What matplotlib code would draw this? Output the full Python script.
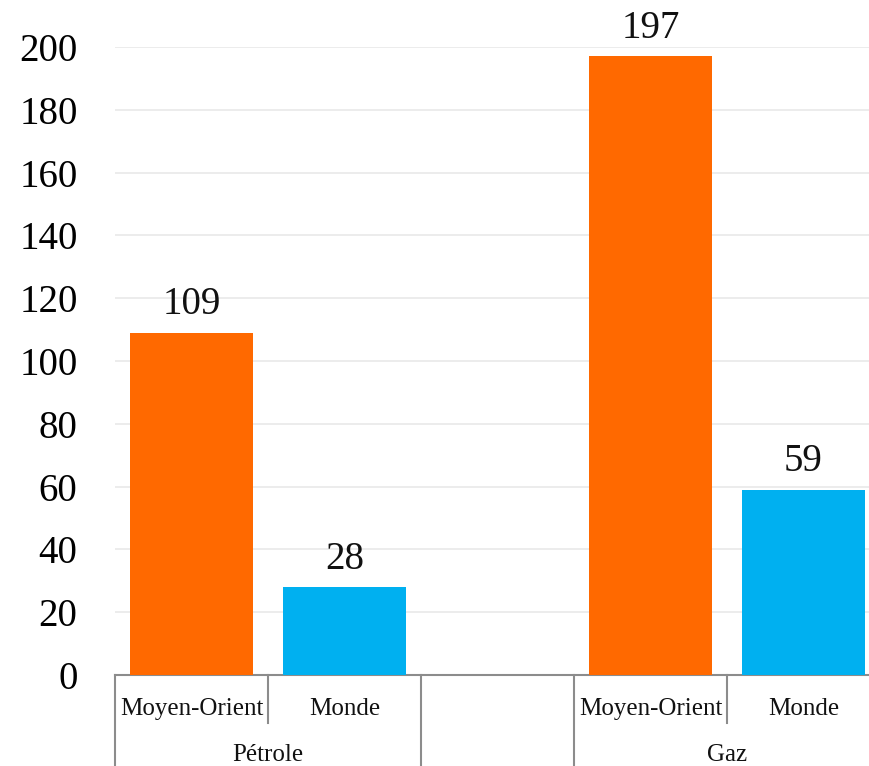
import matplotlib
matplotlib.use('Agg')
import matplotlib.pyplot as plt
import matplotlib.transforms as mtransforms

plt.rcParams['font.family'] = ['Liberation Serif', 'DejaVu Serif']

# slots on the category axis (the middle one is left empty)
slot_labels = ['Moyen-Orient', 'Monde', '', 'Moyen-Orient', 'Monde']
groups = ['Pétrole', '', 'Gaz']
group_slots = [(0, 1), (2, 2), (3, 4)]

bar_slots = [0, 1, 3, 4]
values = [109, 28, 197, 59]
colors = ['#FF6900', '#00B0F0', '#FF6900', '#00B0F0']
yticks = list(range(0, 201, 20))

W, H = 869, 766
fig = plt.figure(figsize=(W / 100, H / 100), dpi=100)
ax = fig.add_axes([115 / W, (H - 675) / H, 765 / W, (675 - 47) / H])

ax.bar(bar_slots, values, width=0.8, color=colors, zorder=3)
for x, v in zip(bar_slots, values):
    ax.text(x, v + 3, str(v), ha='center', va='bottom', fontsize=28, color='#111111')

ax.set_xlim(-0.5, len(slot_labels) - 0.5)
ax.set_ylim(0, 200)
ax.set_yticks(yticks)
ax.set_yticklabels([str(t) for t in yticks], fontsize=28)
ax.tick_params(axis='y', length=0, pad=27)
ax.set_xticks([])
ax.yaxis.grid(True, color='#EBEBEB', linewidth=1.3, zorder=0)
for s in ['top', 'right', 'left']:
    ax.spines[s].set_visible(False)
ax.spines['bottom'].set_color('#8C8C8C')
ax.spines['bottom'].set_linewidth(1.5)

trans = mtransforms.blended_transform_factory(ax.transData, ax.transAxes)
axh = (675 - 47)

# category labels
for i, lab in enumerate(slot_labels):
    ax.text(i, -34 / axh, lab, transform=trans, ha='center', va='center',
            fontsize=18, color='#111111')

# short dividers between slots inside a group, long ones between groups
group_edges = set()
for a, b in group_slots:
    group_edges.add(a - 0.5)
    group_edges.add(b + 0.5)
for k in range(len(slot_labels) + 1):
    x = k - 0.5
    y_end = -95 / axh if x in group_edges else -48 / axh
    ax.plot([x, x], [0, y_end], transform=trans, color='#8C8C8C',
            linewidth=1.5, clip_on=False)

# group labels
for lab, (a, b) in zip(groups, group_slots):
    if lab:
        ax.text((a + b) / 2, -80 / axh, lab, transform=trans, ha='center',
                va='center', fontsize=18, color='#111111')

fig.savefig('out.png', dpi=100)
